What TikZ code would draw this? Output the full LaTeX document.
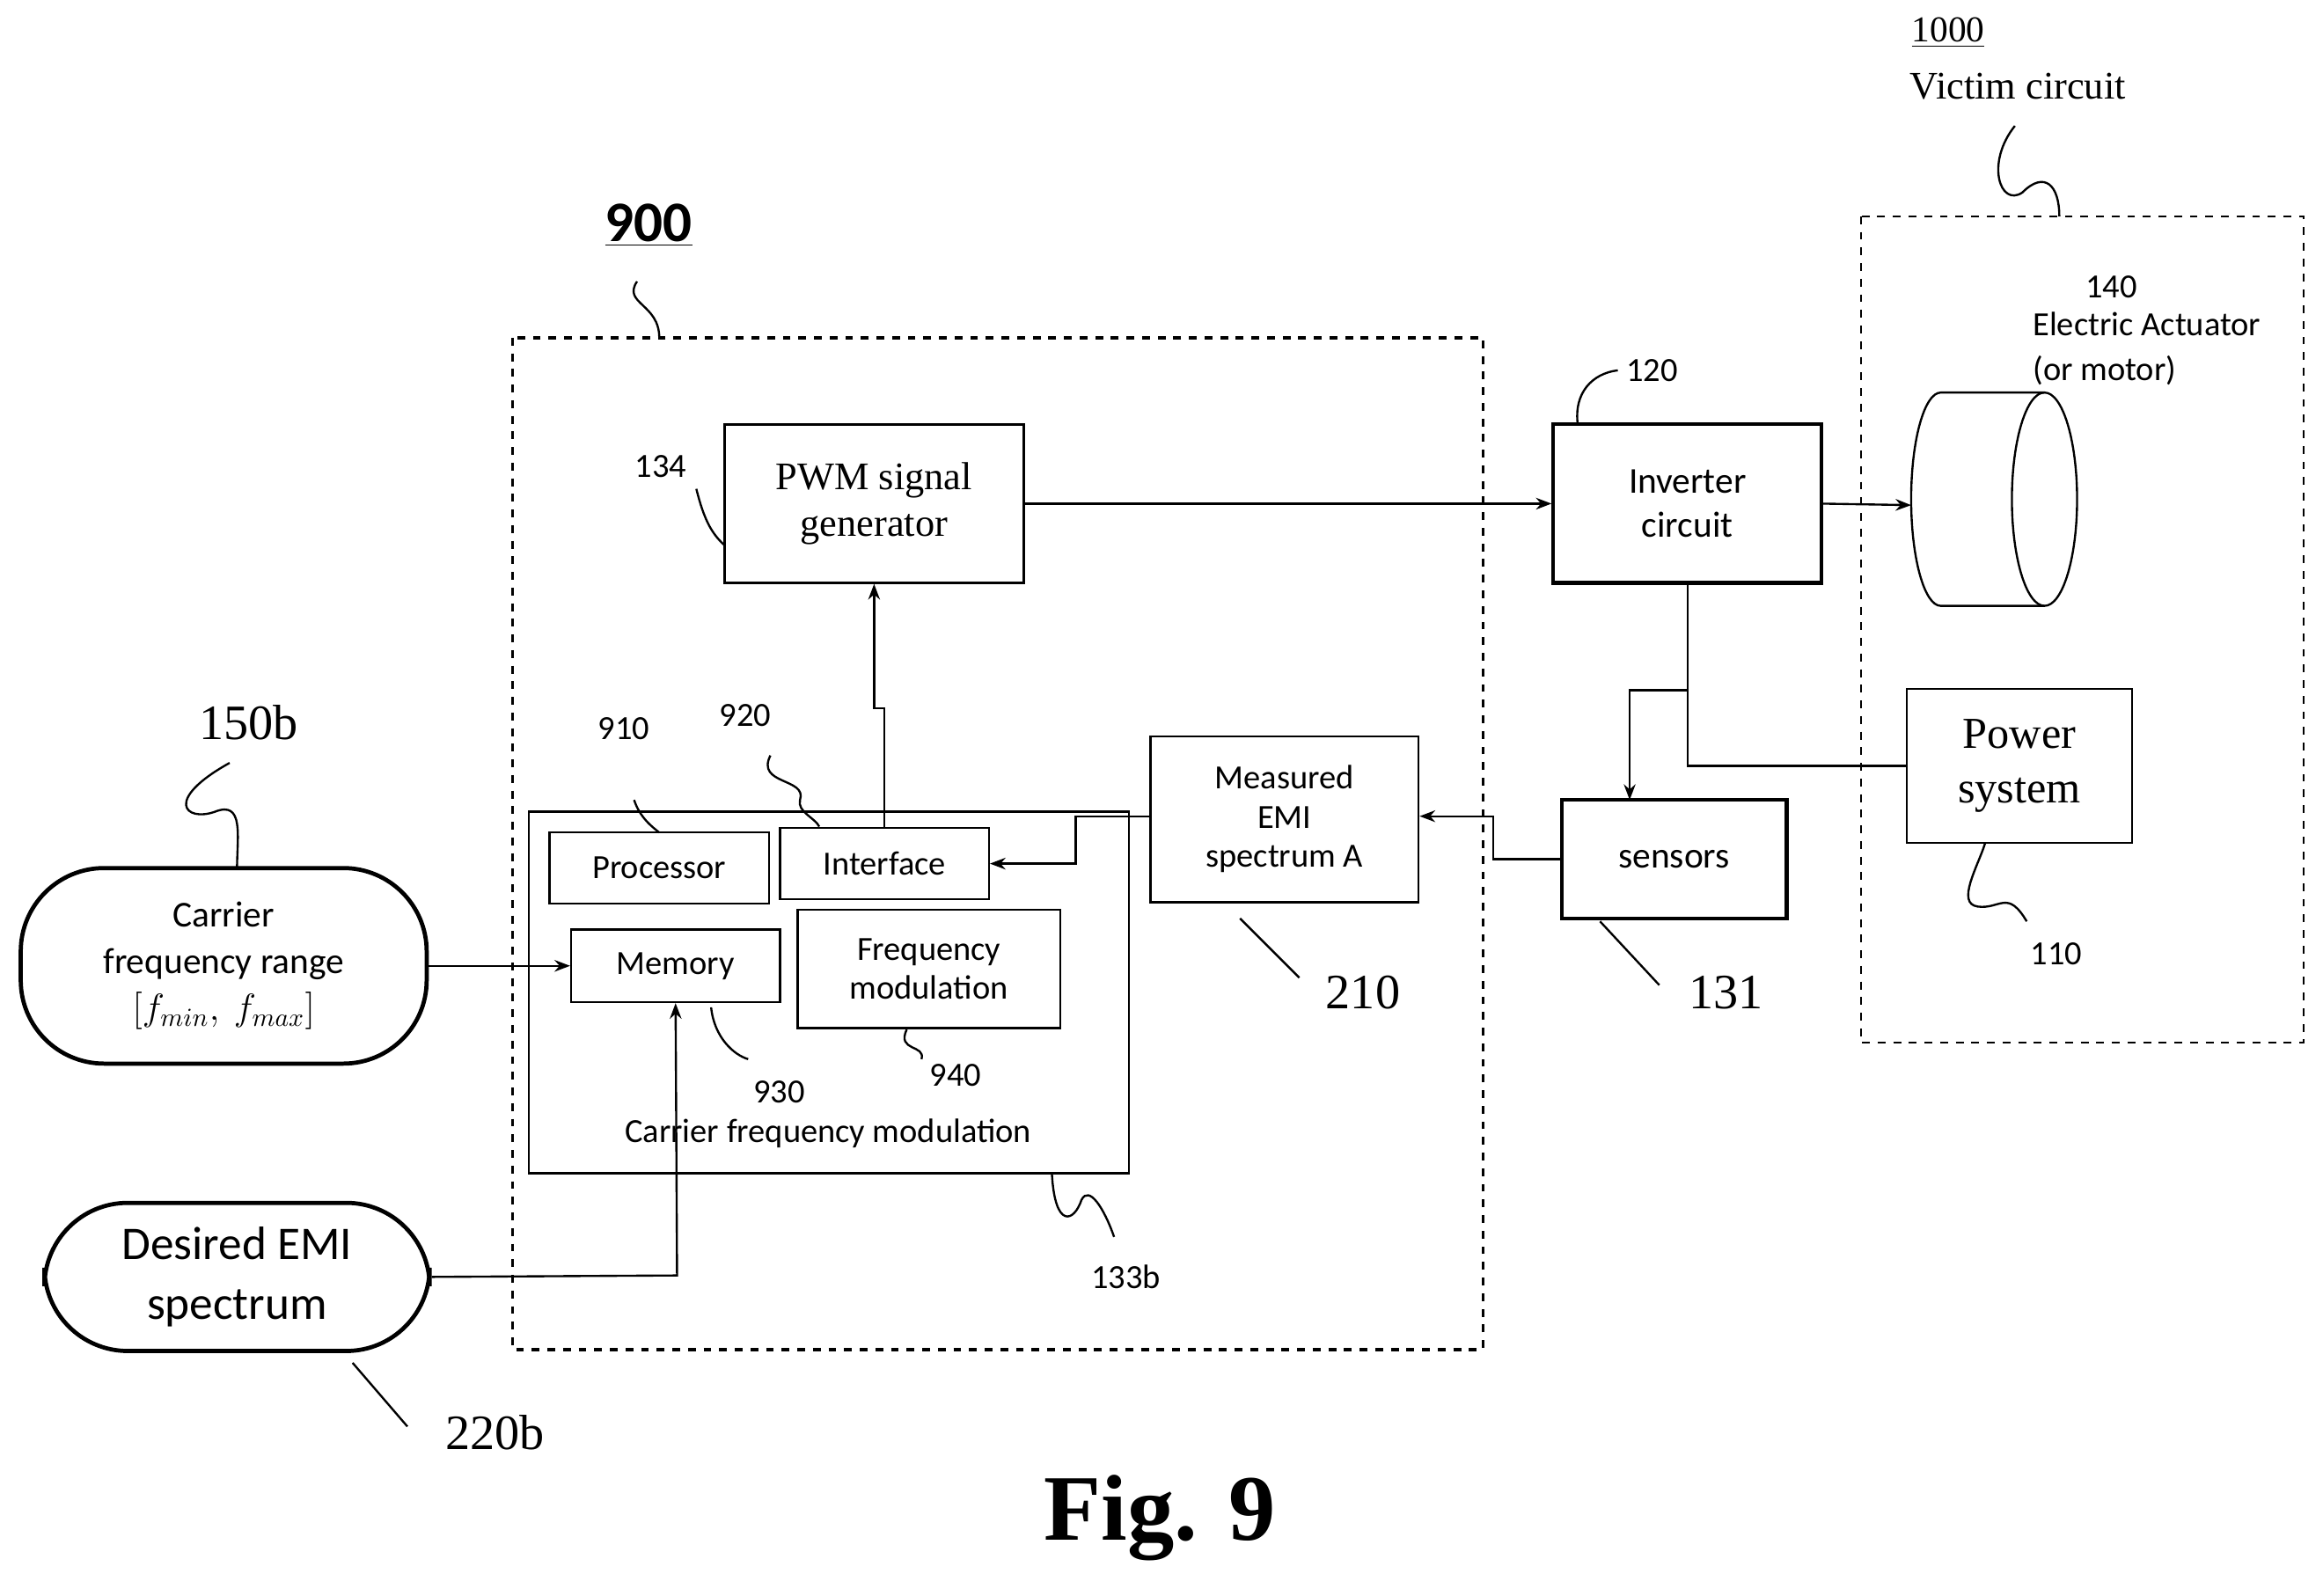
\documentclass[tikz,border=0pt]{standalone}
\usepackage{fontspec}
\setmainfont{Liberation Serif}
\setsansfont{Carlito}
\usetikzlibrary{arrows.meta}
\begin{document}
\begin{tikzpicture}[x=0.2mm,y=-0.2mm,
  box/.style={draw,thick,inner sep=0pt,font=\sffamily\fontsize{13}{15}\selectfont,align=center},
  bbox/.style={draw,line width=1.4pt,inner sep=0pt,font=\sffamily\fontsize{14}{17}\selectfont,align=center},
  pill/.style={draw,line width=1.6pt,rounded corners=32pt,inner sep=0pt,align=center},
  num/.style={font=\sffamily\fontsize{13}{15}\selectfont},
  bignum/.style={font=\fontsize{19}{22}\selectfont},
  arr/.style={thick,-{Stealth[length=6pt]}},
  lead/.style={thick}]
\useasboundingbox (0,0) rectangle (1568,1077);
% dashed frames
\draw[dashed,line width=1.2pt] (346,228) rectangle (1001,911);
\draw[dashed,thick] (1256,146) rectangle (1555,704);
% blocks
\node[box,minimum width=202*0.2mm,minimum height=107*0.2mm,font=\fontsize{15}{18}\selectfont] (pwm) at (590,340) {PWM signal\\generator};
\draw[thick] (357,548) rectangle (762,792);
\node[num] (cfm) at (559,765) {Carrier frequency modulation};
\node[box,minimum width=148*0.2mm,minimum height=48*0.2mm] (proc) at (445,586) {Processor};
\node[box,minimum width=141*0.2mm,minimum height=48*0.2mm] (intf) at (597,583) {Interface};
\node[box,minimum width=141*0.2mm,minimum height=49*0.2mm] (mem) at (456,652) {Memory};
\node[box,minimum width=177*0.2mm,minimum height=80*0.2mm] (fmod) at (627,654) {Frequency\\modulation};
\node[box,minimum width=181*0.2mm,minimum height=112*0.2mm,align=center] (emi) at (867,553) {Measured\\EMI\\spectrum A};
\node[bbox,minimum width=181*0.2mm,minimum height=107*0.2mm] (inv) at (1139,340) {Inverter\\circuit};
\node[bbox,minimum width=152*0.2mm,minimum height=80*0.2mm] (sens) at (1130,580) {sensors};
\node[box,minimum width=152*0.2mm,minimum height=104*0.2mm,font=\fontsize{17}{21}\selectfont] (pow) at (1363,517) {Power\\system};
\node[pill,minimum width=274*0.2mm,minimum height=132*0.2mm,font=\sffamily\fontsize{14}{18}\selectfont] (cfr) at (151,652) {Carrier\\frequency range\\$[f_{min},\ f_{max}]$};
\node[pill,minimum width=260*0.2mm,minimum height=100*0.2mm,font=\sffamily\fontsize{18}{23}\selectfont] (des) at (160,862) {Desired EMI\\spectrum};
% actuator
\draw[thick] (1380,265) -- (1310,265) arc[start angle=90,end angle=270,x radius=4mm,y radius=14.4mm] -- (1380,409);
\draw[thick] (1380,337) ellipse[x radius=4.4mm,y radius=14.4mm];
\coordinate (act) at (1290,341);
% connectors
\draw[arr] (pwm.east) -- (inv.west);
\draw[arr] (inv.east) -- (act);
\draw[thick] (inv.south) -- (1139,517) -- (pow.west);
\draw[arr] (1139,466) -- (1100,466) -- (1100,540);
\draw[arr] (sens.west) -- (1008,580) -- (1008,551) -- (emi.east |- 0,551);
\draw[arr] (emi.west |- 0,551) -- (726,551) -- (726,583) -- (intf.east);
\draw[arr] (intf.north) -- (597,478) -- (590,478) -- (pwm.south);
\draw[arr] (cfr.east) -- (mem.west);
\draw[arr] (des.east) -- (457,861) -- (mem.south);
% labels
\node[font=\sffamily\bfseries\fontsize{22}{26}\selectfont] (l900) at (438,152) {\underline{900}};
\draw[lead] (430,190) .. controls (420,205) and (445,205) .. (445,228);
\node[num] (l134) at (446,315) {134};
\draw[lead] (470,330) .. controls (475,350) and (480,360) .. (489,368);
\node[num] (l910) at (421,492) {910};
\draw[lead] (428,540) .. controls (432,552) and (440,558) .. (445,562);
\node[num] (l920) at (503,483) {920};
\draw[lead] (520,510) .. controls (510,530) and (545,525) .. (540,540) .. controls (538,548) and (550,552) .. (553,558);
\node[num] (l930) at (526,737) {930};
\draw[lead] (480,680) .. controls (482,700) and (495,712) .. (505,715);
\node[num] (l940) at (645,726) {940};
\draw[lead] (612,695) .. controls (605,710) and (625,705) .. (622,715);
\node[num] (l133) at (760,862) {133b};
\draw[lead] (710,792) .. controls (712,830) and (725,825) .. (730,810) .. controls (735,800) and (745,815) .. (752,835);
\node[bignum] (l210) at (920,670) {210};
\draw[lead] (837,620) -- (877,660);
\node[bignum] (l131) at (1165,670) {131};
\draw[lead] (1080,622) -- (1120,665);
\node[num] (l120) at (1115,250) {120};
\draw[lead] (1065,287) .. controls (1062,265) and (1075,252) .. (1092,250);
\node[num] (l140) at (1425,194) {140};
\node[num,anchor=west] (lact) at (1366,219) {Electric Actuator};
\node[num,anchor=west] (lmot) at (1366,250) {(or motor)};
\node[font=\fontsize{14}{17}\selectfont] (l1000) at (1315,22) {\underline{1000}};
\node[font=\fontsize{15}{18}\selectfont,anchor=west] (lvic) at (1283,58) {Victim circuit};
\draw[lead] (1360,85) .. controls (1340,110) and (1350,140) .. (1365,130) .. controls (1380,115) and (1390,125) .. (1390,146);
\node[num] (l110) at (1388,644) {110};
\draw[lead] (1340,569) .. controls (1335,585) and (1320,610) .. (1335,612) .. controls (1350,614) and (1355,600) .. (1368,622);
\node[bignum] (l150) at (168,488) {150b};
\draw[lead] (155,515) .. controls (110,540) and (125,555) .. (145,548) .. controls (165,540) and (160,565) .. (160,586);
\node[bignum] (l220) at (334,967) {220b};
\draw[lead] (238,920) -- (275,963);
\node[font=\bfseries\fontsize{36}{40}\selectfont] (fig) at (783,1025) {Fig. 9};
\end{tikzpicture}
\end{document}
